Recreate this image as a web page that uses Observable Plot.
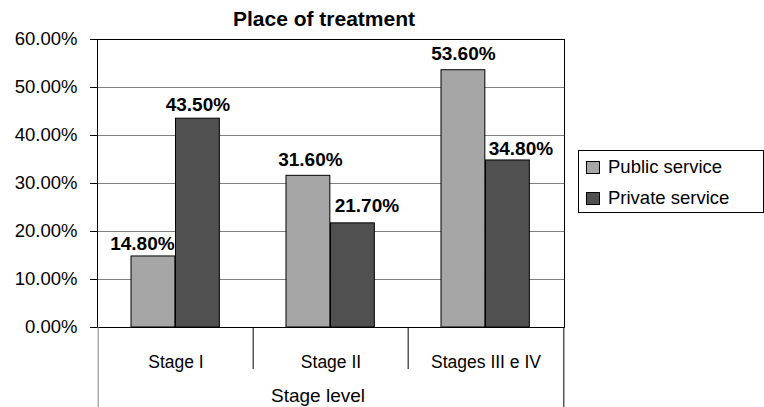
<!DOCTYPE html>
<html>
<head>
<meta charset="utf-8">
<script src="https://cdn.jsdelivr.net/npm/d3@7"></script>
<script src="https://cdn.jsdelivr.net/npm/@observablehq/plot@0.6"></script>
<style>
  html, body { margin: 0; padding: 0; background: #fff; }
  #wrap { position: relative; width: 764px; height: 407px; font-family: "Liberation Sans", Arial, sans-serif; }
  #legend { position: absolute; left: 578px; top: 150px; width: 186px; height: 63px; box-sizing: border-box;
            border: 1px solid #000; background: #fff; font-size: 18.5px; color: #000; }
  .item { position: absolute; left: 7px; height: 20px; display: flex; align-items: center; }
  .sw { width: 12px; height: 11px; border: 1px solid #000; margin-right: 8px; }
</style>
</head>
<body>
<div id="wrap"></div>
<script>
const stages = ["Stage I", "Stage II", "Stages III e IV"];
const seriesNames = ["Public service", "Private service"];
const publicService = [0.148, 0.316, 0.536];
const privateService = [0.435, 0.217, 0.348];
const yTicks = [0, 0.1, 0.2, 0.3, 0.4, 0.5, 0.6];
const colors = ["#a6a6a6", "#505050"];

const W = 764, H = 407, ML = 97, MR = 200, MT = 39, MB = 80;
const bw = (W - ML - MR) / stages.length;
const barW = 44.5, inner = 33;

const rows = [];
stages.forEach((s, i) => {
  rows.push({stage: s, series: seriesNames[0], value: publicService[i]});
  rows.push({stage: s, series: seriesNames[1], value: privateService[i]});
});
const pub = rows.filter(d => d.series === seriesNames[0]);
const pri = rows.filter(d => d.series === seriesNames[1]);

// label nudges (style only)
const nudgePub = [{dx: -11, dy: -6}, {dx: 2, dy: -10}, {dx: 0, dy: -10}];
const nudgePri = [{dx: 0, dy: -8}, {dx: 14, dy: -11}, {dx: 13, dy: -5}];
const pubCenter = -bw / 2 + inner + barW / 2;
const priCenter = -bw / 2 + inner + barW + barW / 2;

const labelMarks = [];
pub.forEach((d, i) => labelMarks.push(Plot.text([d], {x: "stage", y: "value", text: d => d3.format(".2%")(d.value),
  dx: pubCenter + nudgePub[i].dx, dy: nudgePub[i].dy, lineAnchor: "bottom", fontWeight: "bold", fontSize: 19, fill: "#000"})));
pri.forEach((d, i) => labelMarks.push(Plot.text([d], {x: "stage", y: "value", text: d => d3.format(".2%")(d.value),
  dx: priCenter + nudgePri[i].dx, dy: nudgePri[i].dy, lineAnchor: "bottom", fontWeight: "bold", fontSize: 19, fill: "#000"})));

const chart = Plot.plot({
  width: W, height: H,
  marginLeft: ML, marginRight: MR, marginTop: MT, marginBottom: MB,
  style: {fontFamily: "'Liberation Sans', Arial, sans-serif", fontSize: "18.5px", color: "#000", background: "#fff", overflow: "visible"},
  x: {type: "band", domain: stages, padding: 0},
  y: {domain: [0, 0.6]},
  marks: [
    Plot.gridY([0.1, 0.2, 0.3, 0.4, 0.5], {stroke: "#808080", strokeOpacity: 1}),
    Plot.barY(pub, {x: "stage", y: "value", fill: colors[0], stroke: "#000", strokeWidth: 1,
      insetLeft: inner, insetRight: bw - inner - barW}),
    Plot.barY(pri, {x: "stage", y: "value", fill: colors[1], stroke: "#000", strokeWidth: 1,
      insetLeft: inner + barW, insetRight: bw - inner - 2 * barW}),
    Plot.frame({stroke: "#000"}),
    Plot.axisY({ticks: yTicks, tickFormat: d3.format(".2%"), tickSize: 7, tickPadding: 13, label: null, fontSize: 18.5}),
    Plot.axisX({tickSize: 0, tickPadding: 28, label: null, fontSize: 17.5}),
    Plot.ruleX(stages.slice(1), {x: d => d, dx: -bw / 2, y1: 0, y2: -0.0875, stroke: "#000"}),
    Plot.ruleX([stages[0]], {x: d => d, dx: -bw / 2, y1: 0, y2: -0.1667, stroke: "#808080"}),
    Plot.ruleX([stages[stages.length - 1]], {x: d => d, dx: bw / 2, y1: 0, y2: -0.1667, stroke: "#000"}),
    ...labelMarks,
    Plot.text(["Place of treatment"], {frameAnchor: "top", dx: -7, dy: -14, lineAnchor: "bottom", fontWeight: "bold", fontSize: 21, fill: "#000"}),
    Plot.text(["Stage level"], {frameAnchor: "bottom", dx: -13, dy: 74.5, lineAnchor: "bottom", fontSize: 19, fill: "#000"})
  ]
});
const wrap = document.getElementById("wrap");
wrap.appendChild(chart);

const legend = document.createElement("div");
legend.id = "legend";
seriesNames.forEach((name, i) => {
  const it = document.createElement("div");
  it.className = "item";
  it.style.top = (i === 0 ? 6 : 37) + "px";
  const sw = document.createElement("div");
  sw.className = "sw";
  sw.style.background = colors[i];
  const t = document.createElement("span");
  t.textContent = name;
  it.appendChild(sw); it.appendChild(t);
  legend.appendChild(it);
});
wrap.appendChild(legend);
</script>
</body>
</html>
